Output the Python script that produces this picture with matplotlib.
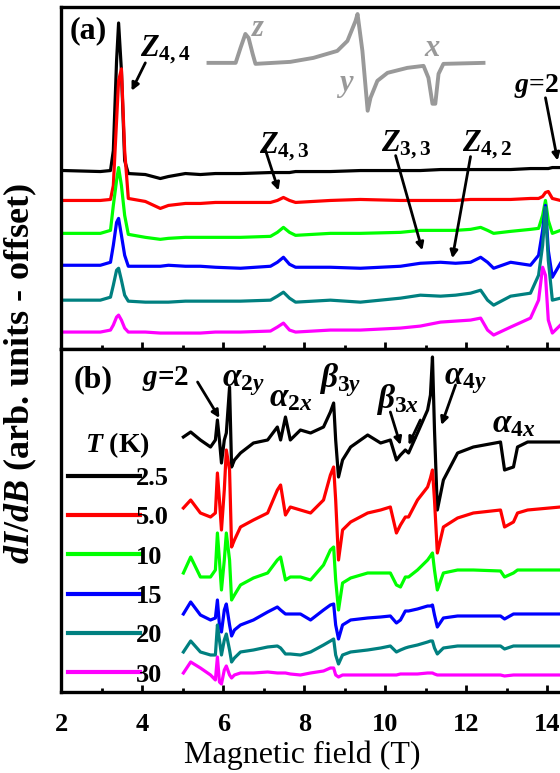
import matplotlib
matplotlib.use('Agg')
import matplotlib.pyplot as plt
from matplotlib.ticker import MultipleLocator

plt.rcParams['font.family'] = 'Liberation Serif'
plt.rcParams['font.weight'] = 'bold'
plt.rcParams['mathtext.fontset'] = 'custom'
plt.rcParams['mathtext.rm'] = 'Liberation Serif:bold'
plt.rcParams['mathtext.it'] = 'Liberation Serif:italic:bold'
plt.rcParams['mathtext.bf'] = 'Liberation Serif:bold'

temps = ['2.5', '5.0', '10', '15', '20', '30']
colors = ['black', 'red', '#00ff00', 'blue', '#008080', 'magenta']

# panel (a): field (T) and dI/dB traces (arb. units, offset included)
a_field = [2.07, 2.96, 3.21, 3.28, 3.36, 3.41, 3.48, 3.56, 3.65, 4.07, 4.44, 4.64, 5.06,
           5.43, 5.80, 6.42, 7.16, 7.33, 7.48, 7.63, 7.78, 8.64, 9.38, 10.37, 10.86, 11.36,
           11.73, 12.10, 12.35, 12.52, 12.67, 13.09, 13.58, 13.78, 13.88, 13.95, 14.02,
           14.12, 14.32]
a_25 = [17.9, 17.8, 17.9, 19.9, 28.9, 32.7, 27.9, 18.9, 17.6, 17.5, 17.1, 17.3, 17.6, 17.5,
        17.6, 17.6, 17.7, 17.7, 17.7, 17.7, 17.8, 17.8, 17.9, 17.9, 17.9, 18.0, 18.0, 18.0,
        18.0, 18.0, 18.0, 18.0, 18.1, 18.1, 18.1, 18.1, 18.1, 18.2, 18.2]
a_50 = [14.9, 14.9, 15.0, 16.4, 22.9, 26.9, 28.1, 19.9, 15.1, 14.8, 14.1, 14.4, 14.6, 14.6,
        14.7, 14.7, 14.7, 14.9, 15.2, 14.9, 14.7, 14.9, 15.0, 14.9, 14.9, 14.9, 14.9, 15.0,
        15.0, 15.0, 15.0, 15.0, 15.1, 15.1, 15.3, 15.7, 15.8, 15.1, 14.9]
a_10 = [11.6, 11.6, 11.9, 14.4, 16.9, 18.2, 16.4, 13.4, 11.5, 11.2, 11.0, 11.1, 11.2, 11.2,
        11.2, 11.2, 11.3, 11.7, 12.2, 11.7, 11.4, 11.6, 11.6, 11.7, 11.9, 11.9, 11.9, 12.0,
        12.2, 11.9, 11.6, 11.8, 12.0, 12.1, 13.4, 14.9, 12.9, 11.6, 11.9]
a_15 = [8.4, 8.4, 8.7, 10.4, 12.7, 13.1, 11.4, 9.4, 8.3, 8.3, 8.3, 8.4, 8.3, 8.3, 8.2, 8.1,
        8.3, 8.7, 9.2, 8.5, 8.2, 8.2, 8.1, 8.3, 8.6, 8.7, 8.6, 8.7, 9.2, 8.7, 8.1, 8.7, 8.4,
        9.4, 11.9, 14.4, 9.9, 7.2, 8.6]
a_20 = [4.9, 4.9, 5.2, 6.4, 7.9, 8.1, 6.9, 5.4, 4.8, 4.7, 4.7, 4.7, 4.8, 4.8, 4.8, 4.8, 4.9,
        5.3, 5.7, 5.1, 4.7, 4.9, 4.7, 5.1, 5.4, 5.3, 5.4, 5.6, 5.9, 4.9, 4.4, 5.3, 5.6, 7.4,
        10.4, 14.2, 8.9, 4.9, 5.1]
a_30 = [1.7, 1.7, 1.9, 2.4, 3.2, 3.4, 2.9, 2.1, 1.7, 1.7, 1.6, 1.6, 1.6, 1.6, 1.7, 1.7, 1.8,
        2.2, 2.6, 1.9, 1.7, 1.9, 1.9, 2.1, 2.3, 2.7, 2.8, 2.9, 3.1, 1.9, 1.4, 2.2, 3.1, 4.9,
        8.2, 7.4, 2.9, 1.6, 2.4]

# schematic powder spectrum drawn in grey inside panel (a)
inset_field = [5.63, 6.30, 6.42, 6.54, 6.62, 6.72, 6.79, 7.65, 8.22, 8.81, 9.06, 9.26, 9.31,
               9.43, 9.56, 9.63, 9.80, 10.05, 10.54, 10.94, 11.06, 11.16, 11.23, 11.31,
               11.43, 12.42]
inset_y = [28.7, 28.7, 30.2, 31.6, 31.2, 29.6, 28.6, 28.8, 29.2, 29.9, 30.9, 32.9, 33.6,
           29.9, 23.9, 25.2, 26.9, 27.7, 28.2, 28.4, 27.2, 24.6, 24.6, 27.6, 28.6, 28.7]

# panel (b)
b_field = [5.01, 5.19, 5.43, 5.68, 5.80, 5.85, 5.90, 5.95, 6.02, 6.07, 6.15, 6.20, 6.27,
           6.42, 6.74, 7.09, 7.33, 7.41, 7.53, 7.65, 7.90, 8.15, 8.47, 8.64, 8.72, 8.77,
           8.84, 8.94, 9.14, 9.56, 9.88, 10.12, 10.27, 10.37, 10.49, 10.57, 10.79, 11.04,
           11.11, 11.16, 11.21, 11.28, 11.43, 11.78, 12.17, 12.84, 12.94, 13.16, 13.26,
           13.51, 14.32]
b_25 = [25.5, 26.0, 25.2, 24.5, 25.2, 27.2, 25.2, 22.9, 25.2, 25.9, 30.5, 22.5, 23.2, 23.9,
        24.9, 25.2, 26.5, 25.2, 27.5, 25.2, 26.2, 25.9, 26.5, 28.0, 28.9, 25.2, 21.5, 23.2,
        24.5, 25.7, 24.9, 25.2, 23.2, 23.7, 24.2, 23.9, 25.9, 28.2, 29.7, 33.5, 26.2, 18.2,
        21.2, 23.9, 24.5, 25.0, 22.2, 22.5, 24.5, 25.0, 25.0]
b_50 = [18.4, 19.2, 17.9, 17.5, 17.9, 21.9, 19.2, 16.2, 20.2, 24.2, 22.2, 14.5, 15.2, 16.5,
        17.2, 17.9, 20.2, 20.7, 17.7, 18.5, 18.2, 17.9, 19.2, 21.7, 22.5, 19.2, 13.2, 16.2,
        17.0, 17.9, 18.2, 18.5, 15.9, 16.7, 17.5, 17.5, 19.2, 20.5, 21.4, 22.2, 19.2, 13.9,
        16.5, 17.4, 17.9, 18.2, 16.5, 17.0, 17.9, 18.2, 18.5]
b_10 = [11.9, 13.5, 11.5, 11.5, 12.2, 15.9, 13.2, 10.2, 13.2, 15.9, 13.2, 9.2, 9.7, 10.7,
        11.4, 11.9, 13.2, 13.5, 11.2, 11.5, 11.5, 11.2, 12.7, 14.2, 14.5, 11.2, 8.2, 10.9,
        11.4, 11.9, 11.9, 11.9, 10.7, 10.5, 11.5, 11.5, 12.2, 13.2, 13.6, 13.9, 12.2, 10.2,
        11.9, 12.2, 12.2, 12.1, 11.5, 11.9, 12.2, 12.2, 12.2]
b_15 = [7.8, 9.0, 7.7, 7.2, 7.4, 9.2, 6.7, 6.0, 8.2, 8.8, 6.7, 5.6, 6.2, 6.7, 7.2, 8.0, 8.5,
        8.2, 7.8, 7.8, 7.8, 7.2, 8.2, 8.7, 8.8, 6.7, 5.3, 6.7, 7.2, 7.4, 7.5, 7.6, 6.9, 7.2,
        8.1, 8.1, 8.3, 8.6, 8.6, 8.7, 7.7, 6.5, 7.4, 7.6, 7.6, 7.6, 7.3, 7.8, 7.8, 7.8, 7.8]
b_20 = [4.0, 5.1, 4.0, 3.7, 3.7, 6.7, 5.2, 3.7, 5.2, 5.8, 4.2, 3.0, 3.4, 4.0, 4.2, 4.5, 4.6,
        4.4, 3.8, 3.8, 3.7, 4.0, 4.7, 5.1, 5.3, 3.7, 2.8, 3.7, 4.0, 4.2, 4.4, 4.6, 4.0, 4.2,
        4.4, 4.5, 4.7, 5.0, 5.1, 5.1, 4.4, 3.8, 4.4, 4.6, 4.6, 4.6, 4.3, 4.6, 4.6, 4.6, 4.6]
b_30 = [1.9, 3.0, 2.4, 1.7, 1.2, 3.5, 1.0, 0.8, 2.2, 2.6, 1.7, 1.4, 1.7, 1.9, 1.9, 2.0, 1.9,
        1.9, 1.9, 1.8, 1.7, 1.9, 2.1, 2.4, 2.4, 1.7, 1.5, 1.7, 1.7, 1.7, 1.7, 1.7, 1.7, 1.8,
        1.8, 1.8, 1.8, 1.9, 1.9, 1.9, 1.8, 1.7, 1.7, 1.7, 1.7, 1.7, 1.6, 1.7, 1.7, 1.7, 1.7]

a_traces = [a_25, a_50, a_10, a_15, a_20, a_30]
b_traces = [b_25, b_50, b_10, b_15, b_20, b_30]

fig = plt.figure(figsize=(5.6, 7.73), dpi=100)
# the axes run past the right edge of the figure, as in the cropped original
axa = fig.add_axes([0.1098, 0.5485, 1.0125, 0.4424])
axb = fig.add_axes([0.1098, 0.1048, 1.0125, 0.4437])

for ax in (axa, axb):
    ax.set_xlim(2, 16)
    ax.set_ylim(0, 34.3)
    for s in ax.spines.values():
        s.set_linewidth(2.4)
    ax.xaxis.set_major_locator(MultipleLocator(2))
    ax.xaxis.set_minor_locator(MultipleLocator(1))
    ax.tick_params(axis='x', which='both', direction='in', top=False, width=2)
    ax.tick_params(axis='x', which='major', length=5)
    ax.tick_params(axis='x', which='minor', length=3)
    ax.set_yticks([])

axa.tick_params(axis='x', labelbottom=False)
axb.tick_params(axis='x', labelsize=19, pad=15)

for y, c in zip(a_traces, colors):
    axa.plot(a_field, y, color=c, lw=2.3)
lines = []
for y, c, t in zip(b_traces, colors, temps):
    ln, = axb.plot(b_field, y, color=c, lw=2.3, label=t)
    lines.append(ln)

grey = '#999999'
axa.plot(inset_field, inset_y, color=grey, lw=2.8)
axa.text(6.86, 32.1, '$z$', color=grey, fontsize=22, ha='center', va='center')
axa.text(9.01, 26.4, '$y$', color=grey, fontsize=22, ha='center', va='center')
axa.text(11.16, 30.1, '$x$', color=grey, fontsize=22, ha='center', va='center')

arrow = dict(arrowstyle='-|>', color='k', lw=2, mutation_scale=11, shrinkA=0, shrinkB=0)

axa.text(2.67, 31.9, '(a)', fontsize=23, ha='center', va='center')
axa.text(4.57, 30.0, '$Z_{4,4}$', fontsize=22, ha='center', va='center')
axa.annotate('', xy=(3.73, 25.9), xytext=(4.07, 28.7), arrowprops=arrow)
axa.text(7.5, 20.3, '$Z_{4,3}$', fontsize=22, ha='center', va='center')
axa.annotate('', xy=(7.36, 15.9), xytext=(7.04, 19.9), arrowprops=arrow)
axa.text(10.5, 20.5, '$Z_{3,3}$', fontsize=22, ha='center', va='center')
axa.annotate('', xy=(10.91, 9.9), xytext=(10.25, 19.4), arrowprops=arrow)
axa.text(12.5, 20.5, '$Z_{4,2}$', fontsize=22, ha='center', va='center')
axa.annotate('', xy=(11.65, 9.1), xytext=(12.1, 19.3), arrowprops=arrow)
axa.text(13.72, 26.4, '$g$=2', fontsize=20, ha='center', va='center')
axa.annotate('', xy=(14.25, 18.9), xytext=(13.95, 25.2), arrowprops=arrow)

axb.text(2.77, 31.2, '(b)', fontsize=23, ha='center', va='center')
axb.text(4.57, 31.4, '$g$=2', fontsize=21, ha='center', va='center')
axb.annotate('', xy=(5.9, 27.4), xytext=(5.36, 31.0), arrowprops=arrow)
axb.text(6.5, 31.0, r'$\alpha_{2y}$', fontsize=24, ha='center', va='center')
axb.text(7.65, 29.4, r'$\alpha_{2x}$', fontsize=24, ha='center', va='center')
axb.text(8.89, 31.2, r'$\beta_{3y}$', fontsize=24, ha='center', va='center')
axb.text(10.3, 29.3, r'$\beta_{3x}$', fontsize=24, ha='center', va='center')
axb.annotate('', xy=(10.37, 24.7), xytext=(10.12, 28.0), arrowprops=arrow)
axb.annotate('', xy=(10.57, 24.7), xytext=(10.86, 27.2), arrowprops=arrow)
axb.text(11.98, 31.2, r'$\alpha_{4y}$', fontsize=24, ha='center', va='center')
axb.annotate('', xy=(11.38, 26.7), xytext=(11.73, 30.7), arrowprops=arrow)
axb.text(13.16, 26.8, r'$\alpha_{4x}$', fontsize=24, ha='center', va='center')

axb.text(2.59, 24.7, '$T$ (K)', fontsize=20, ha='left', va='center')
leg = axb.legend(handles=lines, loc='upper left', bbox_to_anchor=(0.012, 0.657),
                 frameon=False, fontsize=19, handlelength=2.7, handletextpad=-0.15,
                 labelspacing=0.6, borderaxespad=0, borderpad=0)
for ln in leg.get_lines():
    ln.set_linewidth(3)

fig.text(0.036, 0.517, '$dI/dB$ (arb. units - offset)', rotation=90, fontsize=26,
         ha='center', va='center')
fig.text(0.539, 0.004, 'Magnetic field (T)', fontsize=23, fontweight='normal',
         ha='center', va='bottom')

fig.savefig('out.png', dpi=100)
